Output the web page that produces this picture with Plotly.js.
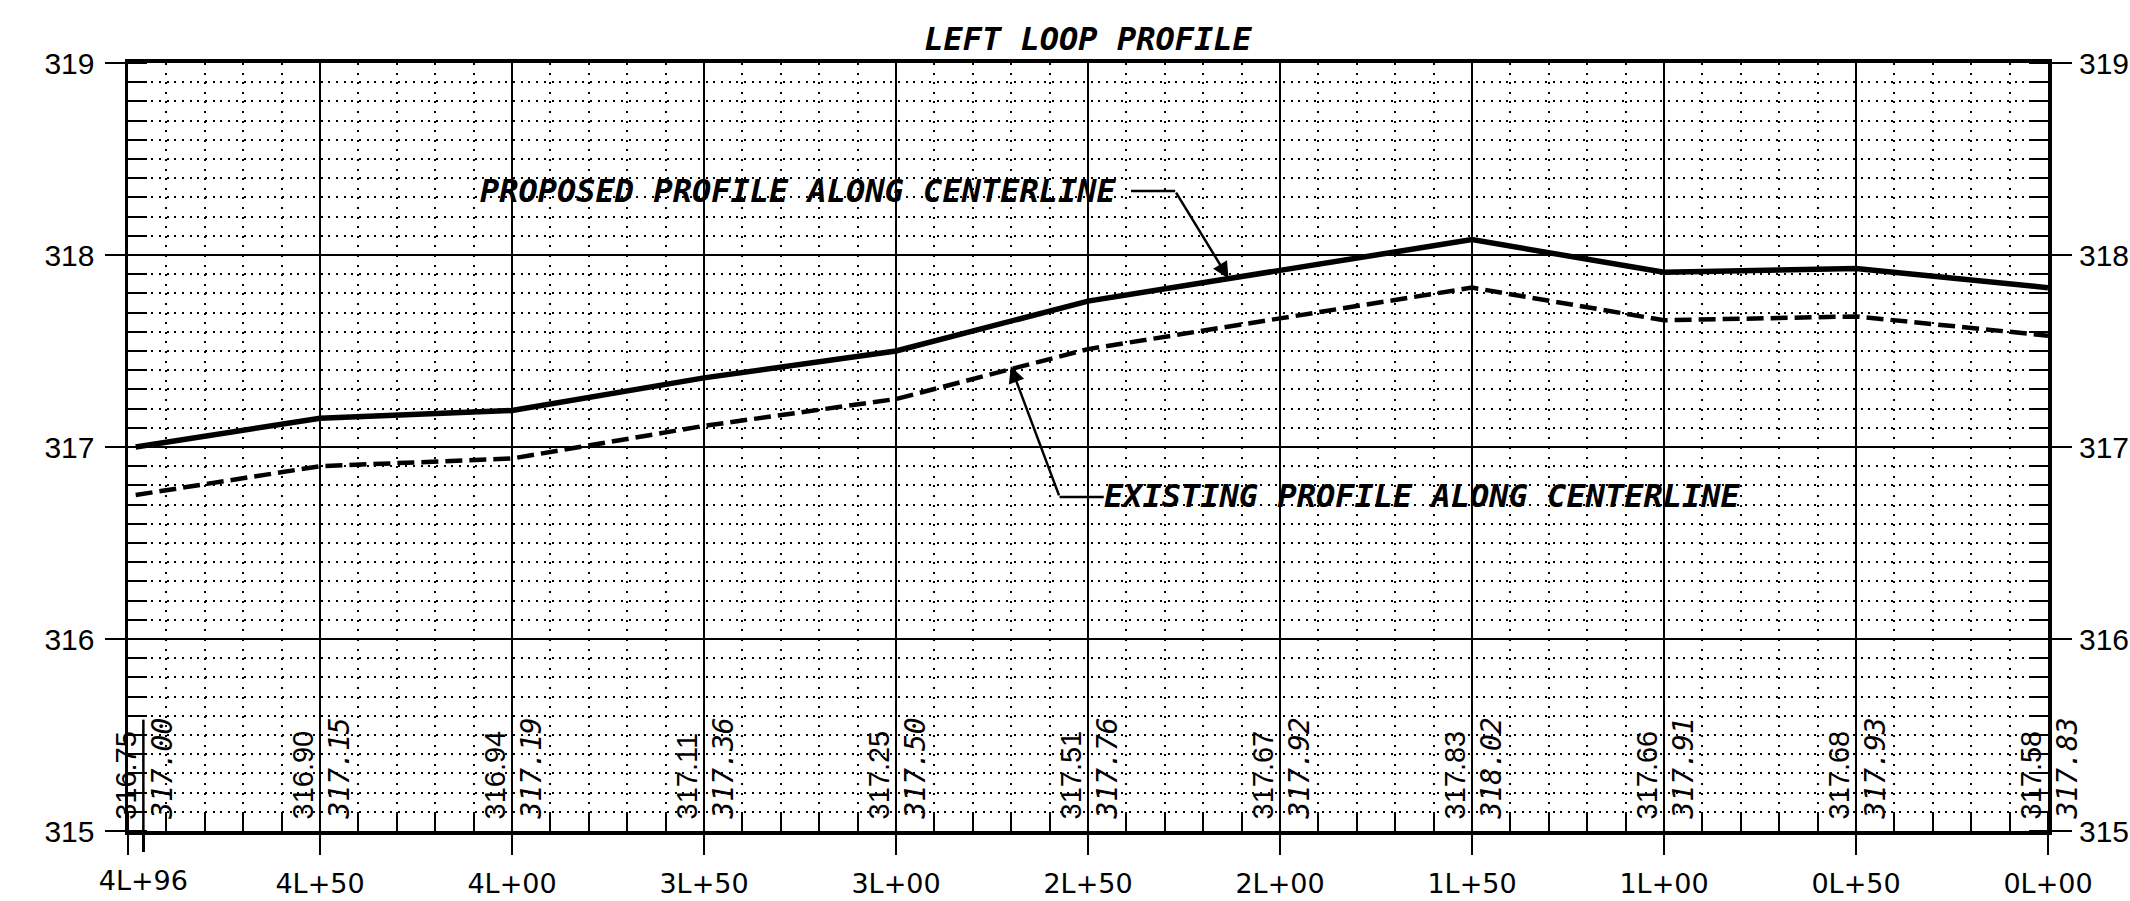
<!DOCTYPE html>
<html>
<head>
<meta charset="utf-8">
<script src="https://cdn.plot.ly/plotly-3.0.1.min.js"></script>
<style>
html,body{margin:0;padding:0;background:#fff;}
#chart{width:2130px;height:901px;}
</style>
</head>
<body>
<div id="chart"></div>
<script>
// ---- data ----
const stationLabels = ['4L+96','4L+50','4L+00','3L+50','3L+00','2L+50','2L+00','1L+50','1L+00','0L+50','0L+00'];
const labelStations = [496, 450, 400, 350, 300, 250, 200, 150, 100, 50, 0];
const existingLabels = [316.75, 316.90, 316.94, 317.11, 317.25, 317.51, 317.67, 317.83, 317.66, 317.68, 317.58];
const proposedLabels = [317.00, 317.15, 317.19, 317.36, 317.50, 317.76, 317.92, 318.02, 317.91, 317.93, 317.83];

const profileStations = [498, 450, 400, 350, 300, 250, 200, 150, 100, 50, 0];
const existingProfile = [316.75, 316.90, 316.94, 317.11, 317.25, 317.51, 317.67, 317.83, 317.66, 317.68, 317.58];
const proposedProfile = [317.00, 317.15, 317.19, 317.36, 317.50, 317.76, 317.92, 318.08, 317.91, 317.93, 317.83];

const elevTicks = [315, 316, 317, 318, 319];
const stationRange = [500, 0];
const elevRange = [315, 319];

const titleText = 'LEFT LOOP PROFILE';
const proposedNote = 'PROPOSED PROFILE ALONG CENTERLINE';
const existingNote = 'EXISTING PROFILE ALONG CENTERLINE';

// ---- styling ----
const INK = '#000';
const cadFont = {family: 'DejaVu Sans Mono', size: 32, color: INK, style: 'italic', weight: 'bold'};
const plainFont = {family: 'Liberation Sans, Arial, sans-serif', size: 29, color: INK};
const slantFont = {family: 'DejaVu Sans Mono', size: 28, color: INK, style: 'italic'};
const tickFontX = {family: 'DejaVu Sans, sans-serif', size: 27, color: INK};
const tickFontY = {family: 'Liberation Sans, Arial, sans-serif', size: 30, color: INK};

const majorStations = [stationRange[0]].concat(labelStations.slice(1));
const majorText = [''].concat(stationLabels.slice(1));

const traces = [
  {x: profileStations, y: existingProfile, type: 'scatter', mode: 'lines',
   line: {color: INK, width: 4.5, dash: '17px,7px'}, hoverinfo: 'skip', showlegend: false},
  {x: profileStations, y: proposedProfile, type: 'scatter', mode: 'lines',
   line: {color: INK, width: 5.5}, hoverinfo: 'skip', showlegend: false},
  // invisible helper so the overlaid label axes are drawn
  {x: [labelStations[0]], y: [elevRange[0]], xaxis: 'x2', yaxis: 'y2', type: 'scatter', mode: 'markers',
   marker: {opacity: 0, size: 1}, hoverinfo: 'skip', showlegend: false}
];

const annotations = [];
labelStations.forEach((s, i) => {
  annotations.push({x: s, y: elevRange[0], xref: 'x', yref: 'y', text: existingLabels[i].toFixed(2),
    textangle: -90, xanchor: 'right', yanchor: 'bottom', xshift: 0, yshift: 9, showarrow: false,
    font: plainFont});
  annotations.push({x: s, y: elevRange[0], xref: 'x', yref: 'y', text: proposedLabels[i].toFixed(2),
    textangle: -90, xanchor: 'left', yanchor: 'bottom', xshift: 0, yshift: 9, showarrow: false,
    font: slantFont});
});

// callout notes
annotations.push({x: 241.8, y: 318.334, xref: 'x', yref: 'y', text: proposedNote, xanchor: 'right', yanchor: 'middle',
  showarrow: false, font: cadFont});
annotations.push({x: 246.3, y: 316.745, xref: 'x', yref: 'y', text: existingNote, xanchor: 'left', yanchor: 'middle',
  showarrow: false, font: cadFont});
// arrowheads of the leaders
annotations.push({x: 213.4, y: 317.878, xref: 'x', yref: 'y', ax: 227.3, ay: 318.333, axref: 'x', ayref: 'y',
  text: '', showarrow: true, arrowhead: 2, arrowsize: 1.3, arrowwidth: 2.5, arrowcolor: INK});
annotations.push({x: 270.1, y: 317.42, xref: 'x', yref: 'y', ax: 257.4, ay: 316.74, axref: 'x', ayref: 'y',
  text: '', showarrow: true, arrowhead: 2, arrowsize: 1.3, arrowwidth: 2.5, arrowcolor: INK});

const shapes = [
  {type: 'line', xref: 'x', yref: 'y', x0: 238.8, x1: 227.3, y0: 318.333, y1: 318.333, line: {color: INK, width: 2.5}},
  {type: 'line', xref: 'x', yref: 'y', x0: 257.4, x1: 245.9, y0: 316.74, y1: 316.74, line: {color: INK, width: 2.5}},
  // short station line at the first station
  {type: 'line', xref: 'x', yref: 'paper', x0: labelStations[0], x1: labelStations[0], y0: 0, y1: 0.145,
   line: {color: INK, width: 2.5}}
];

const layout = {
  width: 2130, height: 901,
  margin: {l: 128, r: 82, t: 63, b: 70},
  paper_bgcolor: '#fff', plot_bgcolor: '#fff',
  showlegend: false,
  title: {text: titleText, x: 0.5, xref: 'paper', xanchor: 'center', y: 0.957, yref: 'container', yanchor: 'middle',
          font: cadFont},
  xaxis: {
    range: stationRange, autorange: false, fixedrange: true,
    tickmode: 'array', tickvals: majorStations, ticktext: majorText,
    ticks: 'outside', ticklen: 20, tickwidth: 2.5, tickcolor: INK, ticklabelstandoff: 6,
    showgrid: true, gridcolor: INK, gridwidth: 2.5,
    showline: true, linecolor: INK, linewidth: 4, mirror: true, zeroline: false,
    tickfont: tickFontX,
    minor: {tickmode: 'linear', tick0: 0, dtick: 10, ticks: 'inside', ticklen: 19, tickwidth: 2, tickcolor: INK,
            showgrid: true, gridcolor: INK, gridwidth: 2, griddash: '2px,7.6px'}
  },
  xaxis2: {
    overlaying: 'x', side: 'bottom', anchor: 'y', range: stationRange, autorange: false, fixedrange: true,
    tickmode: 'array', tickvals: [labelStations[0]], ticktext: [stationLabels[0]],
    ticks: 'outside', ticklen: 20, tickwidth: 2.5, tickcolor: INK, ticklabelstandoff: 6,
    showgrid: false, showline: false, zeroline: false,
    tickfont: tickFontX
  },
  yaxis: {
    range: elevRange, autorange: false, fixedrange: true,
    tickmode: 'array', tickvals: elevTicks,
    ticks: 'outside', ticklen: 20, tickwidth: 2.5, tickcolor: INK, ticklabelstandoff: 4,
    showgrid: true, gridcolor: INK, gridwidth: 2.5,
    showline: true, linecolor: INK, linewidth: 3.5, mirror: 'ticks', zeroline: false,
    tickfont: tickFontY,
    minor: {tickmode: 'linear', tick0: 315, dtick: 0.1, ticks: 'inside', ticklen: 19, tickwidth: 2, tickcolor: INK,
            showgrid: true, gridcolor: INK, gridwidth: 2, griddash: '2px,5.7px'}
  },
  yaxis2: {
    overlaying: 'y', side: 'right', anchor: 'x', range: elevRange, autorange: false, fixedrange: true,
    tickmode: 'array', tickvals: elevTicks,
    ticks: 'outside', ticklen: 20, tickwidth: 2.5, tickcolor: INK, ticklabelstandoff: 4,
    showgrid: false, showline: false, zeroline: false,
    tickfont: tickFontY
  },
  annotations: annotations,
  shapes: shapes
};

Plotly.newPlot('chart', traces, layout, {displayModeBar: false, staticPlot: true});
</script>
</body>
</html>
